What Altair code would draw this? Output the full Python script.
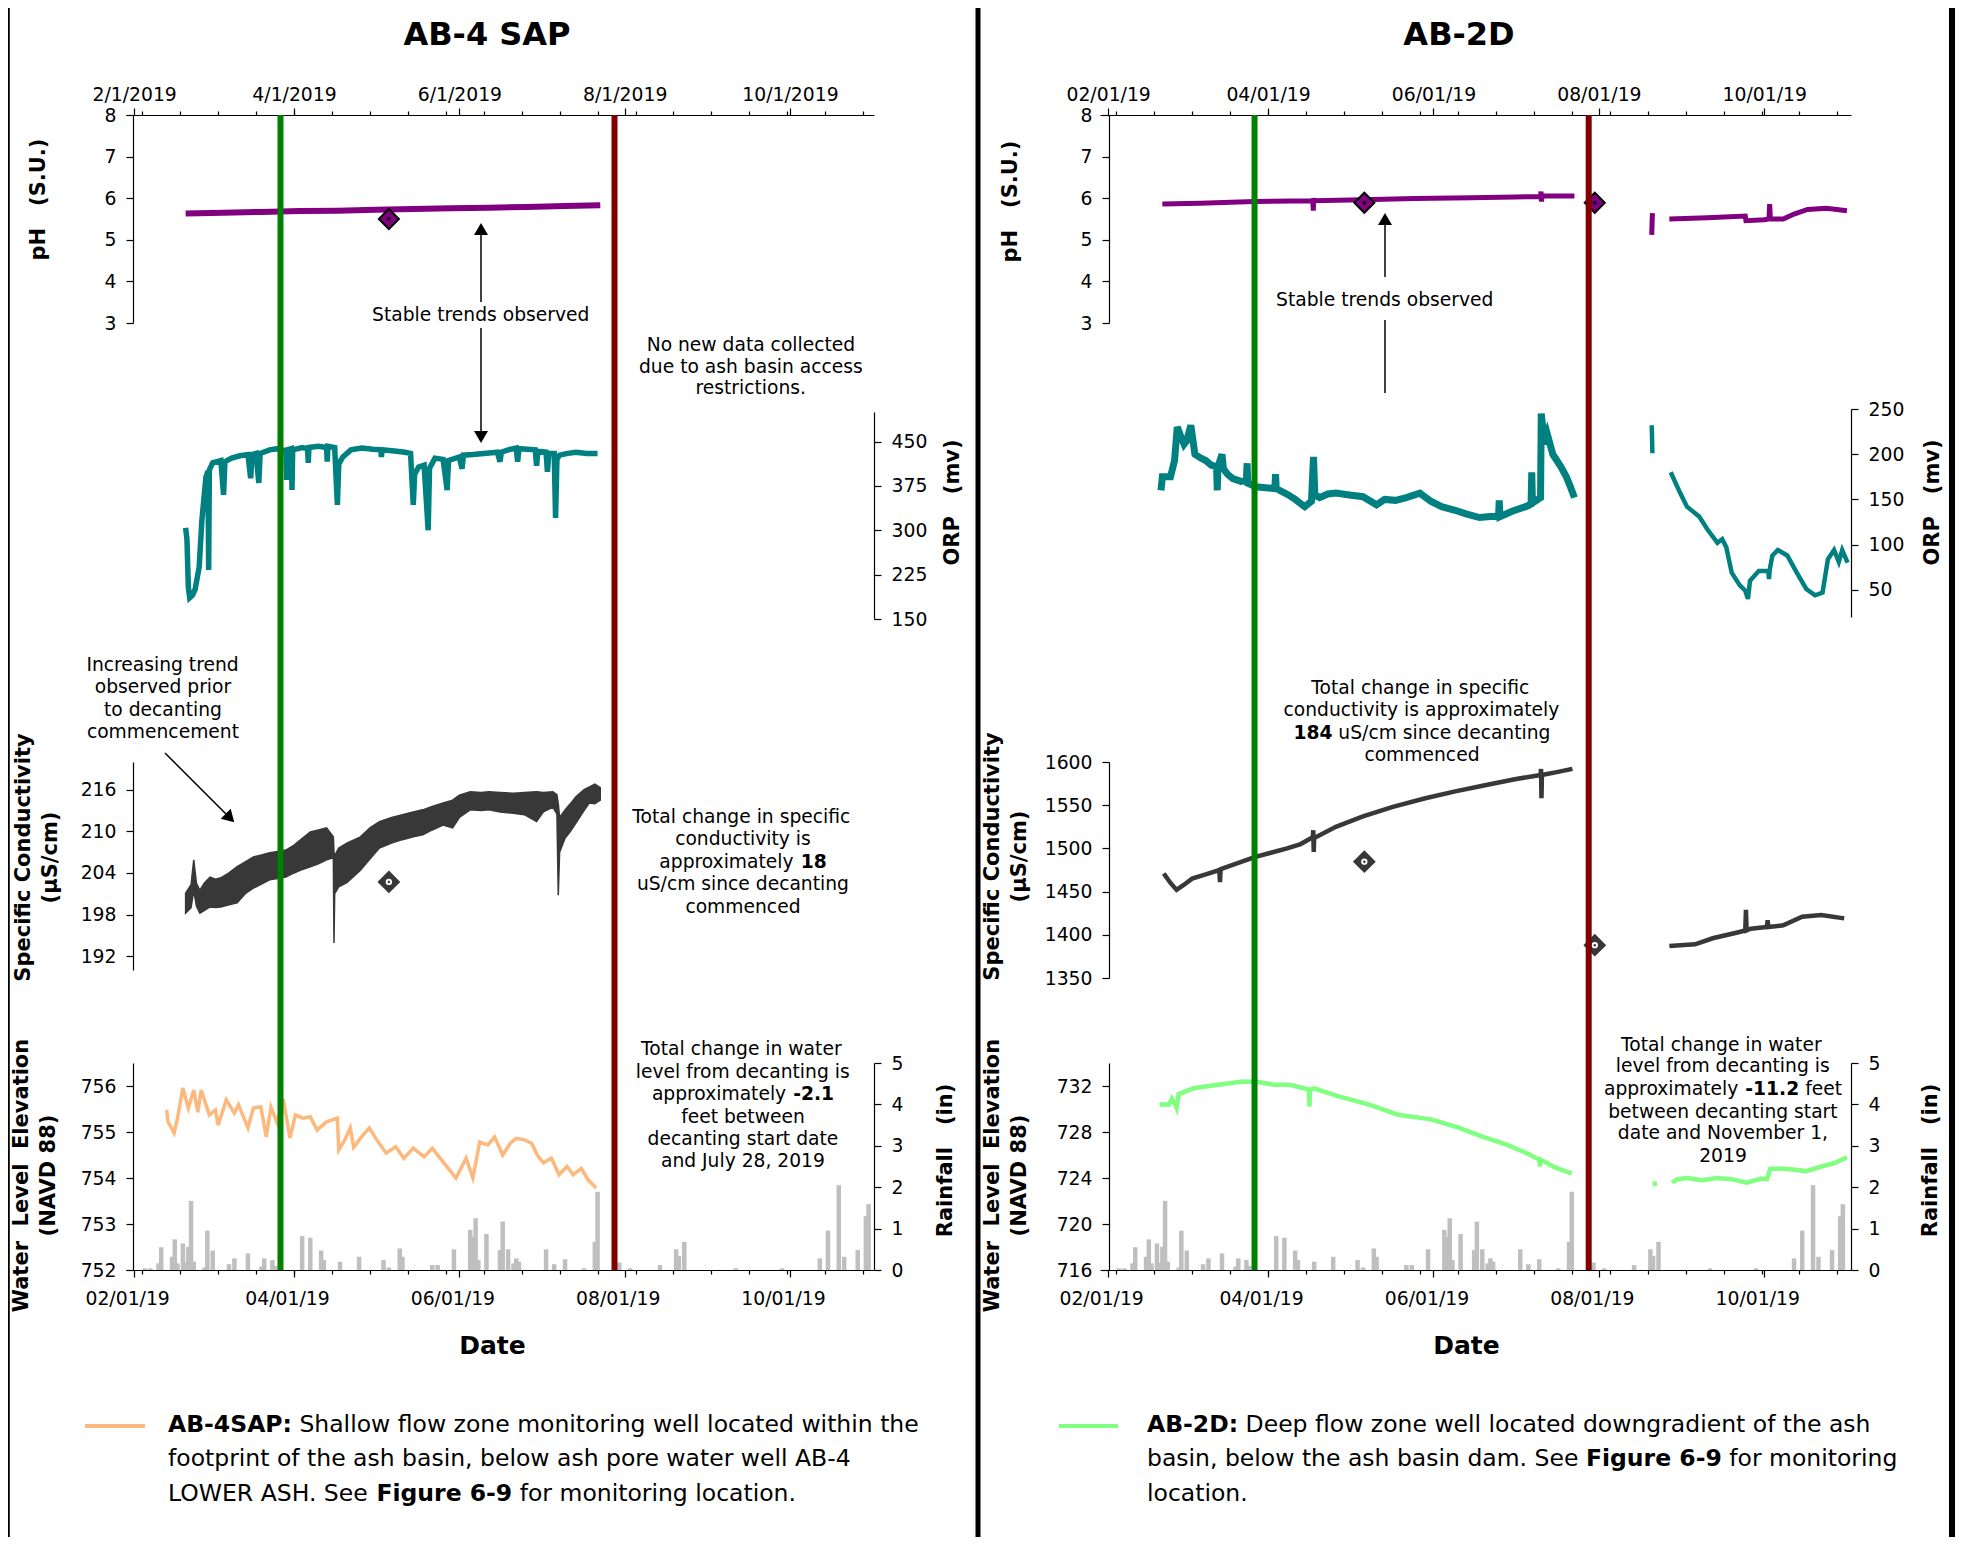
import altair as alt
import pandas as pd

W, H = 1950, 1529
M = 8  # page margin: reference pixel -> chart pixel


def P(v):
    return v - M


def ts(s):
    if "T" in s:
        d, h = s.split("T")
        return "2019-%sT%02d:00:00" % (d, int(h))
    return "2019-%sT00:00:00" % s


def dt(m, d):
    return alt.DateTime(year=2019, month=m, date=d)


NB = "\u00a0"

# ---------------- axis values ----------------
MAJOR_TICKS = [dt(2, 1), dt(4, 1), dt(6, 1), dt(8, 1), dt(10, 1)]
MINOR_DAYS = [(2, 4), (2, 18), (3, 4), (3, 18), (4, 1), (4, 15), (4, 29), (5, 13), (5, 27), (6, 10),
              (6, 24), (7, 8), (7, 22), (8, 5), (8, 19), (9, 2), (9, 16), (9, 30), (10, 14), (10, 28)]
MINOR_TICKS = [dt(m, d) for m, d in MINOR_DAYS]
PH_TICKS = [3, 4, 5, 6, 7, 8]
RAIN_TICKS = [0, 1, 2, 3, 4, 5]
ORP_L_TICKS = [150, 225, 300, 375, 450]
SPC_L_TICKS = [192, 198, 204, 210, 216]
WL_L_TICKS = [752, 753, 754, 755, 756]
ORP_R_TICKS = [50, 100, 150, 200, 250]
SPC_R_TICKS = [1350, 1400, 1450, 1500, 1550, 1600]
WL_R_TICKS = [716, 720, 724, 728, 732]

# ---------------- data ----------------
RAIN = [("02-05", 0.04), ("02-07", 0.04), ("02-10", 0.16), ("02-11", 0.55), ("02-15", 0.32), ("02-16", 0.74),
        ("02-17", 0.16), ("02-19", 0.64), ("02-20", 0.18), ("02-21", 0.56), ("02-22", 1.67), ("02-23", 0.20),
        ("02-27", 0.06), ("02-28", 0.95), ("03-02", 0.47), ("03-08", 0.14), ("03-10", 0.28), ("03-15", 0.40),
        ("03-20", 0.08), ("03-21", 0.28), ("03-24", 0.24), ("03-25", 0.10), ("04-04", 0.82), ("04-07", 0.78),
        ("04-11", 0.47), ("04-12", 0.24), ("04-18", 0.20), ("04-25", 0.32), ("05-04", 0.24), ("05-06", 0.06),
        ("05-10", 0.52), ("05-11", 0.32), ("05-22", 0.12), ("05-24", 0.12), ("05-30", 0.50), ("06-05", 0.97),
        ("06-06", 0.80), ("06-07", 1.25), ("06-08", 0.24), ("06-11", 0.87), ("06-16", 0.48), ("06-17", 1.17),
        ("06-19", 0.50), ("06-21", 0.16), ("06-22", 0.28), ("06-23", 0.20), ("07-03", 0.50), ("07-06", 0.14),
        ("07-10", 0.26), ("07-17", 0.04), ("07-21", 0.68), ("07-22", 1.89), ("07-30", 0.18), ("08-03", 0.04),
        ("08-14", 0.12), ("08-20", 0.50), ("08-21", 0.34), ("08-23", 0.68), ("09-11", 0.04), ("09-28", 0.04),
        ("10-12", 0.28), ("10-15", 0.95), ("10-19", 2.05), ("10-21", 0.32), ("10-26", 0.48), ("10-29", 1.30),
        ("10-30", 1.59)]

DECANT = [("03-27", "#008000"), ("07-28T06", "#800000")]

# ---- AB-4 SAP ----
PH_L = [("02-20", 5.63), ("03-06", 5.65), ("03-20", 5.67), ("04-03", 5.69), ("04-17", 5.70), ("05-01", 5.72),
        ("05-15", 5.74), ("05-29", 5.76), ("06-12", 5.77), ("06-26", 5.79), ("07-10", 5.81), ("07-23", 5.83)]
PH_L_DIAMOND = [("05-06", 5.5)]

ORP_L = [("02-20", 304), ("02-20T12", 284), ("02-21", 204), ("02-21T12", 186), ("02-22T12", 190), ("02-23T12", 200),
         ("02-25", 238), ("02-26", 317), ("02-27T12", 390), ("02-28T06", 400), ("02-28T12", 233), ("02-28T18", 402),
         ("03-02", 414), ("03-05", 418), ("03-06", 360), ("03-06T12", 416), ("03-09", 422), ("03-12", 426),
         ("03-15", 428), ("03-16", 388), ("03-16T12", 428), ("03-18", 430), ("03-19", 380), ("03-19T12", 430),
         ("03-23", 436), ("03-26", 438), ("03-29", 434), ("03-29T06", 385), ("03-29T12", 436), ("03-31", 438),
         ("03-31T06", 368), ("03-31T12", 436), ("04-04", 440), ("04-06", 438), ("04-06T06", 414), ("04-06T12", 440),
         ("04-10", 442), ("04-13", 440), ("04-13T06", 416), ("04-13T12", 442), ("04-16", 440), ("04-17", 343),
         ("04-17T12", 412), ("04-19", 424), ("04-22", 436), ("04-26", 439), ("04-30", 437), ("05-03", 436),
         ("05-03T06", 424), ("05-03T12", 436), ("05-08", 434), ("05-12", 432), ("05-14", 430), ("05-15", 343),
         ("05-15T12", 395), ("05-17", 407), ("05-19", 410), ("05-20T12", 300), ("05-21", 405), ("05-23", 422),
         ("05-26", 420), ("05-27T12", 368), ("05-28", 418), ("06-01", 424), ("06-02", 404), ("06-02T12", 427),
         ("06-06", 428), ("06-10", 430), ("06-15", 432), ("06-16", 416), ("06-16T12", 432), ("06-19", 436),
         ("06-22", 439), ("06-22T12", 416), ("06-23", 438), ("06-26", 437), ("06-29", 436), ("06-29T12", 409),
         ("06-30", 434), ("07-03", 432), ("07-03T12", 399), ("07-04", 430), ("07-06", 430), ("07-06T12", 321),
         ("07-07", 420), ("07-08", 427), ("07-11", 430), ("07-14", 432), ("07-18", 430), ("07-22", 430)]

# (date, low, high) of the noisy conductivity band
SPC_L = [("02-20", 198.2, 201.1), ("02-22", 199.0, 202.3), ("02-23", 201.5, 205.9), ("02-24", 199.2, 202.5),
         ("02-25T06", 198.2, 201.5), ("02-27", 198.6, 202.6), ("03-01", 199.1, 203.4), ("03-03", 199.0, 203.1),
         ("03-05", 199.1, 203.3), ("03-08", 199.4, 204.0), ("03-11", 199.7, 204.9), ("03-14", 201.0, 205.6),
         ("03-17", 201.8, 206.3), ("03-20", 202.4, 206.6), ("03-23", 203.0, 206.9), ("03-26", 203.2, 207.1),
         ("03-29", 203.4, 207.3), ("04-01", 204.0, 208.0), ("04-03T12", 204.4, 208.8), ("04-07", 204.9, 209.9),
         ("04-10", 205.3, 210.2), ("04-13", 205.9, 210.5), ("04-15T12", 206.2, 209.2), ("04-15T18", 193.9, 207.0),
         ("04-16", 201.0, 206.5), ("04-17T12", 202.0, 207.6), ("04-20T12", 202.6, 208.3), ("04-25T12", 204.4, 209.2),
         ("04-29", 206.0, 210.5), ("05-02T12", 207.6, 211.4), ("05-07", 208.3, 212.0), ("05-11", 208.8, 212.4),
         ("05-15", 209.2, 212.8), ("05-18T12", 209.5, 213.1), ("05-22", 210.2, 213.6), ("05-26", 210.9, 214.1),
         ("05-29T12", 210.5, 214.5), ("06-01", 212.0, 215.2), ("06-05", 213.1, 215.7), ("06-09", 213.0, 215.6),
         ("06-12", 213.1, 215.7), ("06-16", 212.8, 215.6), ("06-21", 212.6, 215.5), ("06-25", 212.4, 215.6),
         ("06-29T12", 211.4, 215.7), ("07-02", 212.8, 215.6), ("07-05T12", 213.5, 215.7), ("07-07", 212.5, 215.3),
         ("07-07T12", 200.8, 214.0), ("07-08", 207.0, 212.0), ("07-10", 209.0, 213.1), ("07-12", 210.0, 214.0),
         ("07-14", 211.2, 215.0), ("07-17", 213.0, 216.0), ("07-19", 214.1, 216.4), ("07-21", 214.0, 216.8),
         ("07-23", 214.5, 216.3)]
SPC_L_DIAMOND = [("05-06", 202.7)]

WL_L = [("02-13", 755.48), ("02-13T12", 755.22), ("02-15T18", 754.98), ("02-17", 755.30), ("02-19", 755.96),
        ("02-21", 755.52), ("02-23", 755.91), ("02-24T12", 755.43), ("02-25T18", 755.91), ("02-28T18", 755.37),
        ("03-03", 755.48), ("03-04", 755.15), ("03-07", 755.70), ("03-10", 755.41), ("03-11T12", 755.59),
        ("03-15", 755.09), ("03-17", 755.52), ("03-19T18", 755.55), ("03-21T18", 754.89), ("03-23T12", 755.54),
        ("03-25T18", 755.20), ("03-28", 755.72), ("03-30T12", 754.87), ("04-01T12", 755.37), ("04-04T06", 755.30),
        ("04-07", 755.33), ("04-09T12", 755.04), ("04-13", 755.22), ("04-17", 755.30), ("04-17T12", 754.61),
        ("04-19T18", 754.83), ("04-21T18", 755.09), ("04-23", 754.67), ("04-26", 754.90), ("04-28T18", 755.09),
        ("05-01T12", 754.83), ("05-05", 754.54), ("05-08T12", 754.68), ("05-11T12", 754.43), ("05-15", 754.65),
        ("05-19", 754.46), ("05-22", 754.65), ("05-26", 754.35), ("05-30T18", 754.00), ("06-03T12", 754.43),
        ("06-06", 754.00), ("06-08T12", 754.78), ("06-11T12", 754.72), ("06-14", 754.89), ("06-17", 754.50),
        ("06-19T18", 754.75), ("06-22", 754.86), ("06-25", 754.83), ("06-27T18", 754.75), ("06-29T18", 754.50),
        ("07-02", 754.33), ("07-05", 754.43), ("07-07T18", 754.07), ("07-10T18", 754.25), ("07-13", 754.07),
        ("07-16", 754.21), ("07-18T12", 753.96), ("07-21T12", 753.78)]

# ---- AB-2D (segments separated by data gaps) ----
PH_R = [[("02-21", 5.86), ("03-07", 5.88), ("03-27", 5.92), ("04-10", 5.93), ("04-17T12", 5.93), ("04-17T16", 5.70),
         ("04-17T20", 6.00), ("04-18", 5.94), ("05-06", 5.96), ("05-25", 5.99), ("06-15", 6.01), ("07-01", 6.03),
         ("07-10T12", 6.04), ("07-10T16", 6.16), ("07-10T20", 5.92), ("07-11", 6.05), ("07-23", 6.05)],
        [("08-20T12", 5.12), ("08-20T18", 5.64)],
        [("08-27", 5.50), ("09-10", 5.53), ("09-24", 5.57), ("09-24T06", 5.46), ("10-01", 5.48), ("10-02T18", 5.50),
         ("10-03", 5.86), ("10-03T06", 5.50), ("10-08", 5.50), ("10-12", 5.62), ("10-17", 5.73), ("10-24", 5.76),
         ("10-31T12", 5.70)]]
PH_R_DIAMOND = [("05-06T12", 5.89), ("07-30T12", 5.89)]

ORP_R = [[("02-20T12", 160), ("02-21", 175), ("02-24", 175), ("02-25T12", 193), ("02-26T12", 230), ("02-27T12", 222),
          ("03-01", 211), ("03-02", 215), ("03-03T12", 232), ("03-05", 200), ("03-07", 196), ("03-09", 193),
          ("03-11", 188), ("03-13", 186), ("03-13T06", 160), ("03-13T12", 186), ("03-15", 200), ("03-15T12", 184),
          ("03-17", 178), ("03-19", 173), ("03-22", 170), ("03-24", 171), ("03-24T06", 190), ("03-24T12", 168),
          ("03-27T12", 164), ("03-31", 163), ("04-03T12", 162), ("04-03T18", 178), ("04-04", 162),
          ("04-08T12", 155), ("04-11", 150), ("04-14T12", 142), ("04-17", 148), ("04-17T18", 197),
          ("04-18T06", 155), ("04-20", 152), ("04-23", 156), ("04-26", 157), ("05-01", 155), ("05-06", 153),
          ("05-11", 144), ("05-14", 150), ("05-18", 149), ("05-22", 152), ("05-27", 157), ("05-31", 148),
          ("06-04", 142), ("06-09", 138), ("06-13", 134), ("06-18", 130), ("06-22", 131), ("06-25", 131),
          ("06-25T06", 149), ("06-25T12", 131), ("06-30", 137), ("07-05", 142), ("07-07", 145), ("07-07T06", 180),
          ("07-07T12", 146), ("07-09", 149), ("07-10T12", 152), ("07-10T18", 245), ("07-12", 211), ("07-13", 222),
          ("07-15", 200), ("07-18", 186), ("07-20", 175), ("07-21T12", 164), ("07-23", 152)],
         [("08-20T12", 232), ("08-20T18", 201)],
         [("08-27T12", 180), ("08-31", 157), ("09-02T12", 142), ("09-07", 131), ("09-10", 117), ("09-13T18", 102),
          ("09-15T12", 106), ("09-17", 97), ("09-19", 69), ("09-22", 55), ("09-24", 49), ("09-25", 40),
          ("09-25T18", 60), ("09-29", 71), ("10-02T12", 71), ("10-02T18", 62), ("10-03", 72), ("10-04", 88),
          ("10-06", 94), ("10-09T12", 88), ("10-13", 69), ("10-16T12", 51), ("10-19T18", 44), ("10-22T12", 47),
          ("10-24T12", 84), ("10-26T18", 94), ("10-28T12", 81), ("10-29T18", 94), ("10-31T18", 80)]]

SPC_R = [[("02-21T12", 1471), ("02-24", 1460), ("02-26T06", 1452), ("03-01", 1458), ("03-04", 1465), ("03-09", 1470),
          ("03-14", 1475), ("03-14T06", 1461), ("03-14T12", 1476), ("03-20", 1482), ("03-27", 1490), ("04-02", 1495),
          ("04-08", 1500), ("04-13", 1505), ("04-17T12", 1513), ("04-17T16", 1521), ("04-17T20", 1496),
          ("04-18", 1512), ("04-26", 1525), ("05-06", 1537), ("05-17", 1548), ("05-29", 1558), ("06-09", 1566),
          ("06-20", 1573), ("07-01", 1580), ("07-10T12", 1585), ("07-10T16", 1592), ("07-10T20", 1558),
          ("07-11", 1585), ("07-16", 1588), ("07-22T06", 1592)],
         [("08-27", 1387), ("09-05T12", 1389), ("09-12", 1396), ("09-21T12", 1403), ("09-24", 1405),
          ("09-24T06", 1429), ("09-24T12", 1405), ("09-26", 1407), ("10-02", 1409), ("10-02T06", 1417),
          ("10-02T12", 1409), ("10-08", 1411), ("10-15", 1421), ("10-22", 1423), ("10-30T12", 1419)]]
SPC_R_DIAMOND = [("05-06T12", 1484.6), ("07-30T12", 1388)]

WL_R = [[("02-20", 730.4), ("02-23T12", 730.4), ("02-24T12", 730.9), ("02-25T12", 730.5), ("02-26T06", 730.1),
         ("02-27", 731.3), ("03-04T12", 731.8), ("03-13T12", 732.1), ("03-22T12", 732.4), ("03-28T06", 732.35),
         ("04-03T12", 732.1), ("04-09", 732.1), ("04-16", 731.7), ("04-16T06", 730.2), ("04-16T12", 731.7),
         ("04-18", 731.8), ("04-27", 731.1), ("05-08", 730.4), ("05-19", 729.5), ("05-31", 729.1), ("06-10", 728.4),
         ("06-19", 727.6), ("06-28", 726.9), ("07-05", 726.2), ("07-10", 725.6), ("07-10T06", 725.0),
         ("07-10T12", 725.6), ("07-16", 724.9), ("07-22", 724.4)],
        [("08-21T12", 723.7), ("08-21T18", 723.3)],
        [("08-28", 723.6), ("08-30", 723.9), ("09-02T12", 724.0), ("09-08", 723.8), ("09-13T12", 724.0),
         ("09-19", 723.9), ("09-24T12", 723.6), ("09-30", 723.95), ("10-02", 723.9), ("10-03T06", 724.8),
         ("10-09", 724.8), ("10-16T12", 724.6), ("10-22", 725.0), ("10-27", 725.3), ("10-31T12", 725.8)]]

# ---------------- styles ----------------
PURPLE, TEAL, DARK = "#800080", "#008080", "#383838"
ORANGE, LGREEN, RAIN_C = "#FDB97D", "#80FF80", "#BFBFBF"
FONT = "DejaVu Sans"
ANN = 18.7   # annotation font size
LEG = 23.5   # legend font size
ORP_R_WIDTHS = [7, 4.5, 4.5]

# DejaVu Sans advance widths (em) used to lay out mixed bold/regular lines
REG = {' ': .318, '(': .390, ')': .390, ',': .318, '-': .361, '.': .318, '/': .337, ':': .337,
       'A': .684, 'B': .686, 'C': .698, 'D': .770, 'E': .632, 'F': .575, 'G': .775, 'H': .752, 'I': .295,
       'J': .295, 'K': .656, 'L': .557, 'M': .863, 'N': .748, 'O': .787, 'P': .603, 'Q': .787, 'R': .695,
       'S': .635, 'T': .611, 'U': .732, 'V': .684, 'W': .989, 'X': .685, 'Y': .611, 'Z': .685,
       'a': .613, 'b': .635, 'c': .550, 'd': .635, 'e': .615, 'f': .352, 'g': .635, 'h': .634, 'i': .278,
       'j': .278, 'k': .579, 'l': .278, 'm': .974, 'n': .634, 'o': .612, 'p': .635, 'q': .635, 'r': .411,
       's': .521, 't': .392, 'u': .634, 'v': .592, 'w': .818, 'x': .592, 'y': .592, 'z': .525}
BLD = {' ': .348, '(': .457, ')': .457, ',': .380, '-': .415, '.': .380, '/': .365, ':': .400,
       'A': .774, 'B': .762, 'C': .734, 'D': .830, 'E': .683, 'F': .683, 'G': .821, 'H': .837, 'I': .372,
       'J': .372, 'K': .775, 'L': .637, 'M': .995, 'N': .837, 'O': .850, 'P': .733, 'Q': .850, 'R': .770,
       'S': .720, 'T': .682, 'U': .812, 'V': .774, 'W': 1.103, 'X': .771, 'Y': .724, 'Z': .725,
       'a': .675, 'b': .716, 'c': .593, 'd': .716, 'e': .678, 'f': .435, 'g': .716, 'h': .712, 'i': .343,
       'j': .343, 'k': .665, 'l': .343, 'm': 1.042, 'n': .712, 'o': .687, 'p': .716, 'q': .716, 'r': .493,
       's': .595, 't': .478, 'u': .712, 'v': .652, 'w': .924, 'x': .645, 'y': .652, 'z': .582}


def tw(s, size, bold):
    tab = BLD if bold else REG
    dig = .696 if bold else .636
    return size * sum(dig if c.isdigit() else tab.get(c, .6) for c in s)


texts = []


def put_line(segs, x0, y, size, center=True):
    if isinstance(segs, str):
        segs = [(segs, False)]
    total = sum(tw(t, size, b) for t, b in segs)
    x = x0 - total / 2 if center else x0
    for t, b in segs:
        lead = len(t) - len(t.lstrip(" "))
        texts.append(dict(x=P(x + lead * tw(" ", size, b)), y=P(y), text=t.strip(), size=size, bold=b))
        x += tw(t, size, b)


def put_block(lines, cx, ys, size=ANN):
    for ln, y in zip(lines, ys):
        put_line(ln, cx, y, size)


# titles
put_line([("AB-4 SAP", True)], 487, 35, 32)
put_line([("AB-2D", True)], 1459, 35, 32)

# left panel notes
put_block(["Stable trends observed"], 481, [315])
put_block(["No new data collected", "due to ash basin access", "restrictions."], 751, [345, 367, 388])
put_block(["Increasing trend", "observed prior", "to decanting", "commencement"], 163, [665, 687, 710, 732])
put_block(["Total change in specific", "conductivity is", [("approximately ", False), ("18", True)],
           "uS/cm since decanting", "commenced"], 743, [817, 839, 862, 884, 907])
put_block(["Total change in water", "level from decanting is", [("approximately ", False), ("-2.1", True)],
           "feet between", "decanting start date", "and July 28, 2019"], 743, [1049, 1072, 1094, 1117, 1139, 1161])

# right panel notes
put_block(["Stable trends observed"], 1385, [300])
put_block(["Total change in specific", "conductivity is approximately",
           [("184", True), (" uS/cm since decanting", False)], "commenced"], 1422, [688, 710, 733, 755])
put_block(["Total change in water", "level from decanting is",
           [("approximately ", False), ("-11.2", True), (" feet", False)], "between decanting start",
           "date and November 1,", "2019"], 1723, [1045, 1066, 1089, 1112, 1133, 1156])

# legends
put_line([("AB-4SAP:", True), (" Shallow flow zone monitoring well located within the", False)], 168, 1425, LEG, False)
put_line("footprint of the ash basin, below ash pore water well AB-4", 168, 1459, LEG, False)
put_line([("LOWER ASH. See ", False), ("Figure 6-9", True), (" for monitoring location.", False)], 168, 1494, LEG, False)
put_line([("AB-2D:", True), (" Deep flow zone well located downgradient of the ash", False)], 1147, 1425, LEG, False)
put_line([("basin, below the ash basin dam. See ", False), ("Figure 6-9", True), (" for monitoring", False)],
         1147, 1459, LEG, False)
put_line("location.", 1147, 1494, LEG, False)

# straight lines (reference pixel coordinates)
rules = []


def rule(x1, y1, x2, y2, c="black", w=1.5):
    rules.append(dict(x=P(x1), y=P(y1), x2=P(x2), y2=P(y2), c=c, w=w))


rule(8.8, 8, 8.8, 8 + H, w=2)
rule(978, 8, 978, 8 + H, w=5)
rule(1952, 8, 1952, 8 + H, w=6)
rule(481, 302, 481, 232)
rule(481, 328, 481, 434)
rule(165, 753, 229, 817)
rule(1385, 277, 1385, 222)
rule(1385, 320, 1385, 393)
rule(85, 1426, 145, 1426, c=ORANGE, w=4)
rule(1059, 1426, 1118, 1426, c=LGREEN, w=4)

heads = pd.DataFrame([dict(x=P(481), y=P(229), a=0), dict(x=P(481), y=P(437), a=180),
                      dict(x=P(230), y=P(818), a=135), dict(x=P(1385), y=P(219), a=0)])


# ---------------- helpers ----------------
def df_pairs(pairs):
    return pd.DataFrame({"t": [ts(p[0]) for p in pairs], "v": [p[1] for p in pairs]})


def df_segs(segs, widths=None):
    rows = []
    for i, s in enumerate(segs):
        for d, v in s:
            rows.append({"t": ts(d), "v": v, "seg": i, "w": widths[i] if widths else 4.5})
    return pd.DataFrame(rows)


def ysc(lo, hi, bottom, top):
    return alt.Scale(domain=[lo, hi], range=[P(bottom), P(top)], nice=False, zero=False)


def yax(orient, at, values, title, tdx, tyc, lh=27):
    off = -P(at) if orient == "left" else P(at) - W
    if isinstance(title, list):          # first line sits on the anchor; centre the block
        tdx -= lh * (len(title) - 1) / 2
    return alt.Axis(orient=orient, offset=off, values=values, format="d", title=title, titleX=tdx,
                    titleY=P(tyc), titleAngle=270, titleAlign="center", titleBaseline="middle",
                    titleLineHeight=lh, tickSize=7, labelPadding=10, grid=False)


def xtop(fmt):
    return alt.Axis(orient="top", offset=-P(115), values=MAJOR_TICKS, format=fmt, labelFlush=False,
                    labelOverlap=False, tickSize=7, labelPadding=4, title=None, grid=False)


def xminor(orient):
    off = -P(115) if orient == "top" else P(1270) - H
    return alt.Axis(orient=orient, offset=off, values=MINOR_TICKS, labels=False, domain=False,
                    tickSize=4, title=None, grid=False)


def xbot(title_cx):
    return alt.Axis(orient="bottom", offset=P(1270) - H, values=MAJOR_TICKS, format="%m/%d/%y",
                    labelFlush=False, labelOverlap=False, labelOffset=-7, tickSize=7, labelPadding=12,
                    title="Date", titleX=P(title_cx), titleY=75, titleAngle=0, titleAlign="center",
                    titleBaseline="middle", titleFontSize=25, grid=False)


def diamonds(pairs, xs, ys, fill, stroke, inner, inner_size, dot, dot_size):
    base = alt.Chart(df_pairs(pairs)).encode(x=alt.X("t:T", scale=xs, axis=None),
                                             y=alt.Y("v:Q", scale=ys, axis=None))
    out = [base.mark_point(shape="diamond", filled=True, fill=fill, stroke=stroke, strokeWidth=2,
                           size=400, opacity=1),
           base.mark_point(shape="circle", filled=True, color=inner, size=inner_size, opacity=1)]
    if dot:
        out.append(base.mark_point(shape="circle", filled=True, color=dot, size=dot_size, opacity=1))
    return out


PH_T = "pH" + NB * 2 + " (S.U.)"
ORP_T = "ORP" + NB * 2 + " (mv)"
RAIN_T = "Rainfall" + NB * 2 + " (in)"
WL_T = ["Water" + NB + " Level" + NB + " Elevation", "(NAVD 88)"]
SPC_T = ["Specific Conductivity", "(µS/cm)"]

decant_df = pd.DataFrame({"t": [ts(d) for d, _ in DECANT], "c": [c for _, c in DECANT]})
layers = []

# ================= AB-4 SAP =================
XL = alt.Scale(domain=[dt(1, 29), dt(11, 1)], range=[P(126), P(874)], nice=False)
YL = dict(ph=ysc(3, 8, 323, 115), orp=ysc(150, 500, 619, 412), spc=ysc(190, 220, 970, 762),
          wl=ysc(752, 756.5, 1270, 1063), rain=ysc(0, 5, 1270, 1063))

layers.append(alt.Chart(df_pairs(RAIN)).mark_rule(color=RAIN_C, strokeWidth=4.5).encode(
    x=alt.X("t:T", scale=XL, axis=xbot(492)),
    y=alt.Y("v:Q", scale=YL["rain"], axis=yax("right", 874, RAIN_TICKS, RAIN_T, 71, 1160)),
    y2=alt.datum(0)))
layers.append(alt.Chart(df_pairs(WL_L)).mark_line(color=ORANGE, strokeWidth=3.5).encode(
    x=alt.X("t:T", scale=XL, axis=xminor("bottom")),
    y=alt.Y("v:Q", scale=YL["wl"], axis=yax("left", 133, WL_L_TICKS, WL_T, -98, 1175))))
spc_l = pd.DataFrame({"t": [ts(r[0]) for r in SPC_L], "lo": [r[1] for r in SPC_L], "hi": [r[2] for r in SPC_L]})
layers.append(alt.Chart(spc_l).mark_area(color=DARK, stroke=DARK, strokeWidth=1.5, opacity=1).encode(
    x=alt.X("t:T", scale=XL, axis=None),
    y=alt.Y("hi:Q", scale=YL["spc"], axis=yax("left", 133, SPC_L_TICKS, SPC_T, -96, 857)),
    y2="lo:Q"))
layers += diamonds(SPC_L_DIAMOND, XL, YL["spc"], DARK, DARK, "white", 40, DARK, 6)
layers.append(alt.Chart(df_pairs(ORP_L)).mark_line(color=TEAL, strokeWidth=5.5).encode(
    x=alt.X("t:T", scale=XL, axis=xminor("top")),
    y=alt.Y("v:Q", scale=YL["orp"], axis=yax("right", 874, ORP_L_TICKS, ORP_T, 78, 502))))
layers.append(alt.Chart(df_pairs(PH_L)).mark_line(color=PURPLE, strokeWidth=6).encode(
    x=alt.X("t:T", scale=XL, axis=xtop("%-m/%-d/%Y")),
    y=alt.Y("v:Q", scale=YL["ph"], axis=yax("left", 133, PH_TICKS, PH_T, -95, 199))))
layers += diamonds(PH_L_DIAMOND, XL, YL["ph"], PURPLE, "black", "black", 14, None, 0)
layers.append(alt.Chart(decant_df).mark_rule(strokeWidth=6).encode(
    x=alt.X("t:T", scale=XL, axis=None), y=alt.value(P(115)), y2=alt.value(P(1270)),
    color=alt.Color("c:N", scale=None)))

# ================= AB-2D =================
XR = alt.Scale(domain=[dt(1, 29), dt(11, 2)], range=[P(1100), P(1851)], nice=False)
YR = dict(ph=ysc(3, 8, 323, 115), orp=ysc(20, 250, 617, 409), spc=ysc(1350, 1600, 978, 762),
          wl=ysc(716, 734, 1270, 1063), rain=ysc(0, 5, 1270, 1063))

layers.append(alt.Chart(df_pairs(RAIN)).mark_rule(color=RAIN_C, strokeWidth=4.5).encode(
    x=alt.X("t:T", scale=XR, axis=xbot(1466)),
    y=alt.Y("v:Q", scale=YR["rain"], axis=yax("right", 1851, RAIN_TICKS, RAIN_T, 79, 1160)),
    y2=alt.datum(0)))
layers.append(alt.Chart(df_segs(WL_R)).mark_line(color=LGREEN, strokeWidth=4.5).encode(
    x=alt.X("t:T", scale=XR, axis=xminor("bottom")),
    y=alt.Y("v:Q", scale=YR["wl"], axis=yax("left", 1109, WL_R_TICKS, WL_T, -103, 1175)),
    detail="seg:N"))
layers.append(alt.Chart(df_segs(SPC_R)).mark_line(color=DARK, strokeWidth=4.5).encode(
    x=alt.X("t:T", scale=XR, axis=None),
    y=alt.Y("v:Q", scale=YR["spc"], axis=yax("left", 1109, SPC_R_TICKS, SPC_T, -103, 856)),
    detail="seg:N"))
layers += diamonds(SPC_R_DIAMOND, XR, YR["spc"], DARK, DARK, "white", 40, DARK, 6)
layers.append(alt.Chart(df_segs(ORP_R, ORP_R_WIDTHS)).mark_line(color=TEAL).encode(
    x=alt.X("t:T", scale=XR, axis=xminor("top")),
    y=alt.Y("v:Q", scale=YR["orp"], axis=yax("right", 1851, ORP_R_TICKS, ORP_T, 81, 502)),
    strokeWidth=alt.StrokeWidth("w:Q", scale=None),
    detail="seg:N"))
layers.append(alt.Chart(df_segs(PH_R)).mark_line(color=PURPLE, strokeWidth=5).encode(
    x=alt.X("t:T", scale=XR, axis=xtop("%m/%d/%y")),
    y=alt.Y("v:Q", scale=YR["ph"], axis=yax("left", 1109, PH_TICKS, PH_T, -99, 201)),
    detail="seg:N"))
layers += diamonds(PH_R_DIAMOND, XR, YR["ph"], PURPLE, "black", "black", 14, None, 0)
layers.append(alt.Chart(decant_df).mark_rule(strokeWidth=6).encode(
    x=alt.X("t:T", scale=XR, axis=None), y=alt.value(P(115)), y2=alt.value(P(1270)),
    color=alt.Color("c:N", scale=None)))

# ================= annotations =================
layers.append(alt.Chart(pd.DataFrame(rules)).mark_rule().encode(
    x=alt.X("x:Q", scale=None), y=alt.Y("y:Q", scale=None), x2="x2:Q", y2="y2:Q",
    color=alt.Color("c:N", scale=None), strokeWidth=alt.StrokeWidth("w:Q", scale=None)))
layers.append(alt.Chart(heads).mark_point(shape="triangle-up", filled=True, color="black", size=196, opacity=1).encode(
    x=alt.X("x:Q", scale=None), y=alt.Y("y:Q", scale=None), angle=alt.Angle("a:Q", scale=None)))

tdf = pd.DataFrame(texts)
for b in (False, True):
    sub = tdf[tdf["bold"] == b][["x", "y", "text", "size"]]
    layers.append(alt.Chart(sub).mark_text(align="left", baseline="middle", font=FONT,
                                           fontWeight="bold" if b else "normal", color="black").encode(
        x=alt.X("x:Q", scale=None), y=alt.Y("y:Q", scale=None), text="text:N",
        size=alt.Size("size:Q", scale=None)))

chart = alt.layer(*layers).resolve_scale(x="independent", y="independent").properties(
    width=W, height=H, padding=0, autosize=alt.AutoSizeParams(type="none")
).configure_view(stroke="transparent").configure_axis(
    labelFont=FONT, labelFontSize=18.8, labelColor="black", titleFont=FONT, titleFontSize=21,
    titleFontWeight="bold", titleColor="black", domainColor="black", tickColor="black",
    domainWidth=1.2, tickWidth=1.2)

chart.save("out.html", embed_options={"renderer": "svg", "actions": False})
